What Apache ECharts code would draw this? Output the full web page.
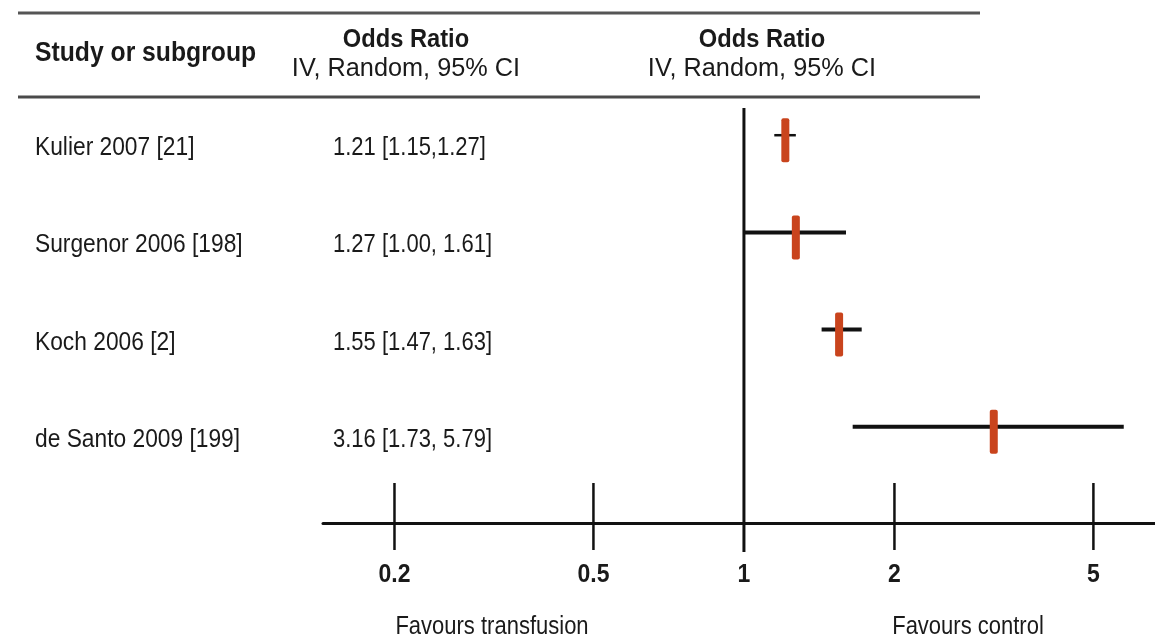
<!DOCTYPE html>
<html>
<head>
<meta charset="utf-8">
<script src="https://cdn.jsdelivr.net/npm/echarts@6/dist/echarts.min.js"></script>
<style>
  html, body { margin: 0; padding: 0; background: #ffffff; }
  #chart { width: 1155px; height: 644px; }
</style>
</head>
<body>
<div id="chart"></div>
<script>
// ---- data ----
const studies = ['Kulier 2007 [21]', 'Surgenor 2006 [198]', 'Koch 2006 [2]', 'de Santo 2009 [199]'];
const ciText = ['1.21 [1.15,1.27]', '1.27 [1.00, 1.61]', '1.55 [1.47, 1.63]', '3.16 [1.73, 5.79]'];
const oddsRatio = [1.21, 1.27, 1.55, 3.16];
const ciLower = [1.15, 1.00, 1.43, 1.65];
const ciUpper = [1.27, 1.60, 1.72, 5.75];
const tickValues = [0.2, 0.5, 1, 2, 5];
const tickLabels = ['0.2', '0.5', '1', '2', '5'];
const headerStudy = 'Study or subgroup';
const headerOR = 'Odds Ratio';
const headerMethod = 'IV, Random, 95% CI';
const favourLeft = 'Favours transfusion';
const favourRight = 'Favours control';

// ---- style config ----
const FONT = "'Liberation Sans', Arial, sans-serif";
const TXT = '#1a1a1a';
const RED = '#c9441d';
const SY = 1.14; // vertical text stretch of the original picture
const ciWidths = [2.5, 4, 4, 4];
const X_MIN = 0.1439, X_MAX = 6.64;
const Y_MIN = -0.28, Y_MAX = 3.99;

const chart = echarts.init(document.getElementById('chart'), null, { renderer: 'canvas' });

function txt(x, y, text, size, weight, align, sx) {
  return {
    type: 'text', x: x, y: y, scaleY: SY, scaleX: sx || 1, silent: true,
    style: {
      x: 0, y: 0, text: text, fill: TXT,
      font: (weight || 'normal') + ' ' + size + 'px ' + FONT,
      textAlign: align || 'left', textVerticalAlign: 'middle'
    }
  };
}

const rows = studies.map((s, i) => i);

const option = {
  animation: false,
  backgroundColor: '#ffffff',
  grid: { left: 323, right: 0, top: 108, bottom: 121 },
  xAxis: {
    type: 'log', logBase: 10, min: X_MIN, max: X_MAX,
    axisLine: { show: true, onZero: false, lineStyle: { color: '#111', width: 3 } },
    axisTick: { show: false }, axisLabel: { show: false }, splitLine: { show: false }
  },
  yAxis: {
    type: 'value', inverse: true, min: Y_MIN, max: Y_MAX, show: false
  },
  graphic: [
    { type: 'line', shape: { x1: 18, y1: 13, x2: 980, y2: 13 }, style: { stroke: '#555555', lineWidth: 3 } },
    { type: 'line', shape: { x1: 18, y1: 97, x2: 980, y2: 97 }, style: { stroke: '#4a4a4a', lineWidth: 3 } },
    txt(35, 53, headerStudy, 24, 'bold', 'left', 1.03),
    txt(406, 40, headerOR, 23, 'bold', 'center', 1.03),
    txt(406, 69, headerMethod, 23, 'normal', 'center', 1.1),
    txt(762, 40, headerOR, 23, 'bold', 'center', 1.03),
    txt(762, 69, headerMethod, 23, 'normal', 'center', 1.1),
    txt(492, 627, favourLeft, 22, 'normal', 'center'),
    txt(968, 627, favourRight, 22, 'normal', 'center')
  ],
  series: [
    {
      // left-hand text columns
      type: 'custom', clip: false, silent: true,
      data: rows.map(i => [1, i]),
      encode: { x: 0, y: 1 },
      renderItem: function (params, api) {
        const i = api.value(1);
        const y = api.coord([1, i])[1] + 13;
        return {
          type: 'group',
          children: [
            txt(35, y, studies[i], 22, 'normal', 'left', 1.035),
            txt(333, y, ciText[i], 22, 'normal', 'left')
          ]
        };
      }
    },
    {
      // reference line at OR = 1
      type: 'custom', clip: false, silent: true,
      data: [[1, 0]],
      encode: { x: 0, y: 1 },
      renderItem: function (params, api) {
        const top = api.coord([api.value(0), Y_MIN]);
        const bot = api.coord([api.value(0), Y_MAX]);
        return {
          type: 'line',
          shape: { x1: top[0], y1: top[1], x2: bot[0], y2: bot[1] + 29 },
          style: { stroke: '#111', lineWidth: 3 }
        };
      }
    },
    {
      // axis ticks and tick labels
      type: 'custom', clip: false, silent: true,
      data: tickValues.map((v, k) => [v, k]),
      encode: { x: 0 },
      renderItem: function (params, api) {
        const v = api.value(0), k = api.value(1);
        const p = api.coord([v, Y_MAX]);
        const children = [];
        if (v !== 1) {
          children.push({
            type: 'line',
            shape: { x1: p[0], y1: p[1] - 40, x2: p[0], y2: p[1] + 27 },
            style: { stroke: '#111', lineWidth: 2.5 }
          });
        }
        children.push(txt(p[0], p[1] + 52, tickLabels[k], 23, 'bold', 'center'));
        return { type: 'group', children: children };
      }
    },
    {
      // confidence interval lines
      type: 'custom', clip: false, silent: true,
      data: rows.map(i => [ciLower[i], ciUpper[i], i]),
      encode: { x: [0, 1], y: 2 },
      renderItem: function (params, api) {
        const i = api.value(2);
        const a = api.coord([api.value(0), i]);
        const b = api.coord([api.value(1), i]);
        return {
          type: 'line',
          shape: { x1: a[0], y1: a[1], x2: b[0], y2: b[1] },
          style: { stroke: '#111', lineWidth: ciWidths[i] }
        };
      }
    },
    {
      // point estimates
      type: 'custom', clip: false, silent: true,
      data: rows.map(i => [oddsRatio[i], i]),
      encode: { x: 0, y: 1 },
      renderItem: function (params, api) {
        const p = api.coord([api.value(0), api.value(1)]);
        return {
          type: 'rect',
          shape: { x: p[0] - 4, y: p[1] - 17, width: 8, height: 44, r: 2 },
          style: { fill: RED }
        };
      }
    }
  ]
};

chart.setOption(option);
</script>
</body>
</html>
